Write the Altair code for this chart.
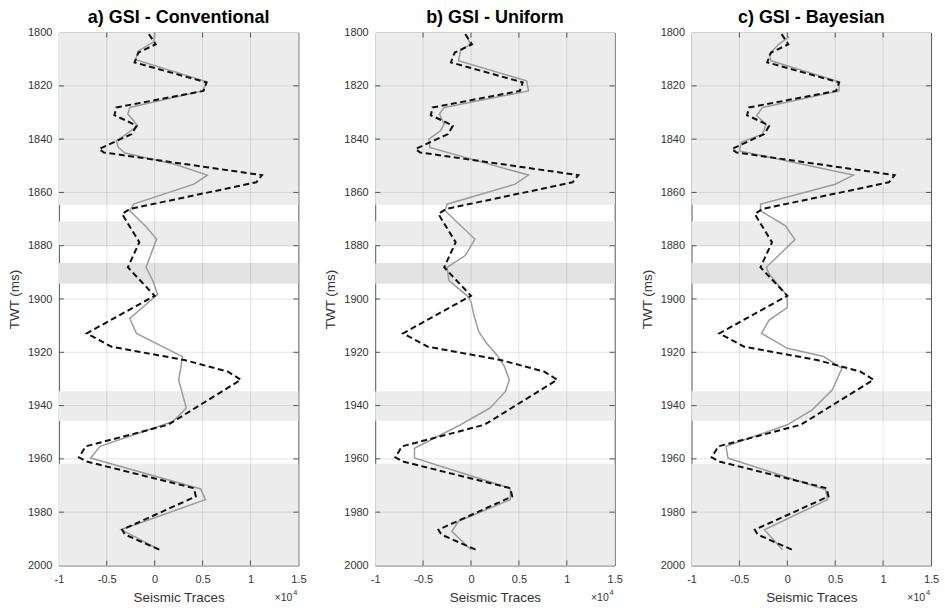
import altair as alt
import pandas as pd

# Observed seismic trace (two-way time in ms, amplitude)
obs_twt = [1800.6, 1804.4, 1807.5, 1811.2, 1818.7, 1821.9, 1828.1, 1831.0, 1833.7, 1835.0,
           1838.1, 1843.7, 1845.0, 1853.5, 1856.2, 1866.2, 1868.1, 1878.7, 1888.1, 1898.8,
           1912.9, 1917.9, 1922.9, 1927.2, 1930.3, 1947.2, 1955.3, 1959.4, 1961.0, 1971.0,
           1974.1, 1986.6, 1988.4, 1994.1]
obs_amp = [-600, 100, -1700, -2100, 5400, 5100, -4000, -4200, -2600, -1900,
           -2400, -5800, -5300, 11200, 10600, -2600, -3400, -1600, -2800, 0,
           -7100, -4500, 3100, 7600, 9000, 1400, -7200, -7900, -7100, 4100,
           4300, -3400, -3100, 500]

# Synthetic trace, conventional GSI
conv_twt = [1800.3, 1803.5, 1806.9, 1810.2, 1818.5, 1821.9, 1828.1, 1830.6, 1833.1, 1835.0,
            1838.5, 1840.6, 1843.1, 1845.2, 1849.4, 1853.5, 1856.9, 1864.4, 1866.9, 1872.5,
            1877.5, 1888.1, 1893.1, 1898.3, 1907.3, 1912.9, 1921.6, 1926.6, 1930.3, 1940.9,
            1946.0, 1955.3, 1959.7, 1971.3, 1975.3, 1986.6, 1994.1]
conv_amp = [0, -100, -1700, -2000, 5500, 5000, -2600, -2800, -2200, -1800,
            -3100, -4000, -3800, -3100, 2100, 5500, 4100, -2200, -2600, -1000,
            200, -900, -200, 300, -2600, -1900, 2900, 2700, 2500, 3300,
            1900, -5700, -6700, 4800, 5300, -3500, 500]

# Synthetic trace, uniform GSI
unif_twt = [1801.2, 1804.4, 1806.9, 1810.6, 1818.1, 1821.9, 1828.1, 1830.6, 1834.4, 1836.9,
            1840.0, 1843.1, 1853.5, 1856.9, 1864.4, 1866.9, 1877.5, 1883.7, 1888.1, 1893.1,
            1898.8, 1901.0, 1906.0, 1912.2, 1916.5, 1921.0, 1925.4, 1930.3, 1934.7, 1940.9,
            1947.2, 1956.0, 1959.7, 1971.0, 1975.3, 1983.4, 1987.2, 1994.1]
unif_amp = [-400, -100, -1100, -1300, 5800, 6000, -2800, -3300, -2800, -3200,
            -4400, -4300, 6000, 4600, -2500, -2700, 400, -600, -2500, -2300,
            -400, 0, 300, 800, 1600, 2700, 3500, 4000, 3600, 2000,
            -1100, -5900, -5900, 4100, 4100, -1300, -2000, 0]

# Synthetic trace, Bayesian GSI
bayes_twt = [1801.5, 1804.4, 1808.1, 1810.6, 1818.5, 1821.9, 1828.1, 1831.2, 1834.4, 1838.1,
             1841.2, 1844.4, 1853.5, 1856.9, 1864.4, 1866.9, 1872.5, 1877.7, 1888.1, 1890.6,
             1898.8, 1903.2, 1907.9, 1912.9, 1918.5, 1921.6, 1926.0, 1934.1, 1941.6, 1947.2,
             1955.3, 1959.7, 1971.6, 1975.3, 1986.6, 1994.1]
bayes_amp = [200, -900, -1900, -1700, 5400, 5400, -2600, -3200, -2200, -2600,
             -4800, -5000, 6900, 5000, -2800, -2800, -200, 800, -2200, -1900,
             0, 0, -1900, -2700, 0, 3800, 5700, 4700, 2600, 0,
             -6400, -6200, 4000, 4200, -2400, -500]

# Shaded depth intervals
band_top = [1800, 1870.8, 1886.5, 1934.6, 1961.8]
band_bottom = [1864.6, 1880.2, 1894.3, 1945.7, 2000]
band_shade = ["light", "light", "mid", "light", "light"]

y_ticks = [1800, 1820, 1840, 1860, 1880, 1900, 1920, 1940, 1960, 1980, 2000]
x_ticks = [-10000, -5000, 0, 5000, 10000, 15000]

panel_titles = ["a) GSI - Conventional", "b) GSI - Uniform", "c) GSI - Bayesian"]

W, H = 240, 534
TICK = 5
FONT = "Liberation Sans"
INK = "#333333"
FRAME = "#555555"

xscale = alt.Scale(domain=[-10000, 15000], nice=False, zero=False)
yscale = alt.Scale(domain=[1800, 2000], reverse=True, nice=False, zero=False)

y_axis = alt.Axis(values=y_ticks, format="d", title="TWT (ms)", ticks=False, tickSize=0, labelPadding=7,
                  titlePadding=6, domain=False, grid=False, labelOverlap=False, labelFlush=False)
x_axis = alt.Axis(values=x_ticks, labelExpr="datum.value / 10000 + ''", title="Seismic Traces",
                  ticks=False, tickSize=0, labelPadding=8, titlePadding=6, domain=False, grid=False,
                  labelFlush=False, labelOverlap=False)


def panel(title, twt, amp):
    Y = lambda f: alt.Y(f, scale=yscale, axis=y_axis)
    X = lambda f: alt.X(f, scale=xscale, axis=x_axis)

    bands = alt.Chart(pd.DataFrame({"top": band_top, "bottom": band_bottom, "shade": band_shade})).mark_rect().encode(
        x=alt.value(0),
        x2=alt.value(W),
        y=Y("top:Q"),
        y2="bottom:Q",
        color=alt.Color("shade:N", scale=alt.Scale(domain=["light", "mid"], range=["#ececec", "#e3e3e3"]),
                        legend=None),
    )
    ydf = pd.DataFrame({"t": y_ticks[1:-1]})
    xdf = pd.DataFrame({"v": x_ticks[1:-1]})
    grid_style = dict(color="#262626", opacity=0.12, strokeWidth=1)
    hgrid = alt.Chart(ydf).mark_rule(**grid_style).encode(y=Y("t:Q"))
    vgrid = alt.Chart(xdf).mark_rule(**grid_style).encode(x=X("v:Q"))

    # inward ticks on all four sides of the frame
    tick_style = dict(color=FRAME, strokeWidth=1)
    lticks = alt.Chart(ydf).mark_rule(**tick_style).encode(y=Y("t:Q"), x=alt.value(0), x2=alt.value(TICK))
    rticks = alt.Chart(ydf).mark_rule(**tick_style).encode(y=Y("t:Q"), x=alt.value(W - TICK), x2=alt.value(W))
    tticks = alt.Chart(xdf).mark_rule(**tick_style).encode(x=X("v:Q"), y=alt.value(0), y2=alt.value(TICK))
    bticks = alt.Chart(xdf).mark_rule(**tick_style).encode(x=X("v:Q"), y=alt.value(H - TICK), y2=alt.value(H))

    synth = alt.Chart(pd.DataFrame({"twt": twt, "amp": amp})).mark_line(
        color="#9c9c9c", strokeWidth=1.5
    ).encode(x=X("amp:Q"), y=Y("twt:Q"), order="twt:Q")
    observed = alt.Chart(pd.DataFrame({"twt": obs_twt, "amp": obs_amp})).mark_line(
        color="#111111", strokeWidth=2, strokeDash=[6, 3.5]
    ).encode(x=X("amp:Q"), y=Y("twt:Q"), order="twt:Q")

    mult = alt.Chart(pd.DataFrame({"s": ["\u00d710"]})).mark_text(
        align="right", baseline="middle", fontSize=10.5, font=FONT, color=INK
    ).encode(text="s:N", x=alt.value(W - 6), y=alt.value(H + 33))
    power = alt.Chart(pd.DataFrame({"s": ["4"]})).mark_text(
        align="right", baseline="middle", fontSize=7.5, font=FONT, color=INK
    ).encode(text="s:N", x=alt.value(W - 1), y=alt.value(H + 28))

    return alt.layer(
        bands, hgrid, vgrid, lticks, rticks, tticks, bticks, synth, observed, mult, power
    ).properties(
        width=W,
        height=H,
        title=alt.TitleParams(title, frame="group", offset=0, fontSize=18, fontWeight="bold",
                              font=FONT, color="#000000"),
    )


chart = alt.hconcat(
    panel(panel_titles[0], conv_twt, conv_amp),
    panel(panel_titles[1], unif_twt, unif_amp),
    panel(panel_titles[2], bayes_twt, bayes_amp),
    spacing=77,
    bounds="flush",
).properties(
    padding={"left": 7, "top": 7, "right": 5, "bottom": 5},
    background="#ffffff",
).configure_view(
    stroke=FRAME, strokeWidth=1
).configure_axis(
    labelFont=FONT, titleFont=FONT, labelFontSize=11, titleFontSize=13.5,
    labelColor=INK, titleColor=INK, titleFontWeight="normal"
)

chart.save("out.html", embed_options={"renderer": "svg", "actions": False})
